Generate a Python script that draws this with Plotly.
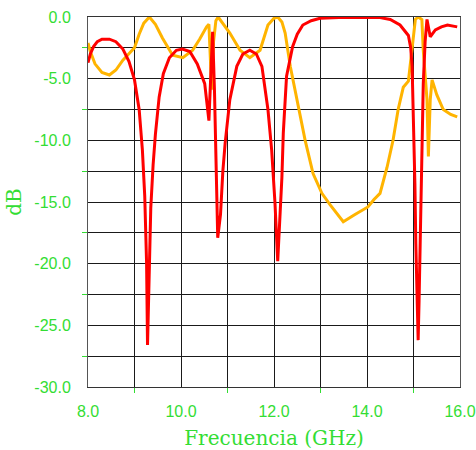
import plotly.graph_objects as go

# Frequency (GHz) / dB samples
red_f = [8.00, 8.05, 8.12, 8.20, 8.30, 8.46, 8.60, 8.75, 8.88, 9.00, 9.10, 9.17, 9.22, 9.26, 9.28,
         9.31, 9.35, 9.40, 9.45, 9.53, 9.62, 9.75, 9.90, 10.03, 10.19, 10.35, 10.51, 10.60, 10.64,
         10.68, 10.72, 10.76, 10.79, 10.85, 10.90, 10.95, 11.05, 11.20, 11.33, 11.48, 11.62, 11.74,
         11.87, 11.95, 12.02, 12.08, 12.13, 12.17, 12.20, 12.27, 12.40, 12.50, 12.62, 12.80, 12.99,
         13.40, 14.00, 14.28, 14.50, 14.71, 14.89, 14.94, 14.97, 15.00, 15.03, 15.05, 15.08, 15.10,
         15.12, 15.16, 15.18, 15.21, 15.25, 15.29, 15.36, 15.47, 15.60, 15.73, 15.94]
red_db = [-3.7, -3.0, -2.4, -2.0, -1.8, -1.8, -2.0, -2.6, -3.6, -5.1, -7.5, -10.8, -14.5, -20.0, -26.6,
          -22.0, -15.5, -12.0, -9.5, -6.5, -4.6, -3.3, -2.7, -2.6, -2.8, -3.8, -5.4, -8.4, -4.5,
          -1.2, -6.0, -13.0, -17.9, -16.0, -12.5, -10.2, -6.7, -4.0, -3.0, -2.7, -3.0, -4.0,
          -7.5, -10.8, -15.0, -19.8, -16.5, -13.0, -9.4, -4.8, -2.4, -1.4, -0.65, -0.3, -0.1,
          -0.05, -0.05, -0.05, -0.2, -0.65, -1.5, -2.5, -4.0, -8.1, -13.5, -18.4, -22.0, -26.2,
          -23.0, -14.0, -9.4, -5.4, -2.0, -0.2, -1.6, -1.05, -0.8, -0.65, -0.8]

orange_f = [8.00, 8.05, 8.15, 8.30, 8.46, 8.60, 8.75, 9.00, 9.10, 9.20, 9.32, 9.45, 9.60, 9.82, 10.04,
            10.25, 10.40, 10.55, 10.60, 10.63, 10.66, 10.70, 10.75, 10.80, 10.90, 11.05, 11.27, 11.48,
            11.70, 11.87, 12.00, 12.08, 12.17, 12.24, 12.35, 12.50, 12.67, 12.84, 13.03, 13.20, 13.42,
            13.49, 13.75, 14.02, 14.15, 14.28, 14.43, 14.56, 14.67, 14.78, 14.89, 14.97, 15.04, 15.10,
            15.18, 15.21, 15.29, 15.32, 15.36, 15.40, 15.50, 15.64, 15.80, 15.94]
orange_db = [-2.1, -2.8, -3.8, -4.5, -4.7, -4.3, -3.5, -2.5, -1.4, -0.5, 0.0, -0.6, -1.7, -3.1, -3.3,
             -2.7, -1.8, -0.8, -0.6, -3.0, -5.9, -2.0, -0.3, 0.0, -0.5, -1.3, -2.7, -3.3,
             -2.7, -0.65, -0.1, 0.0, -0.4, -1.3, -4.0, -6.7, -10.0, -12.7, -14.3, -15.2, -16.2,
             -16.6, -16.0, -15.4, -14.8, -14.3, -12.2, -10.0, -7.5, -5.7, -5.2, -2.7, -0.2, 0.0,
             -0.2, -2.7, -6.7, -11.3, -6.7, -5.1, -6.3, -7.5, -7.9, -8.1]

x_ticks = [8, 10, 12, 14, 16]
x_ticktext = ["8.0", "10.0", "12.0", "14.0", "16.0"]
x_minor = [9, 11, 13, 15]
y_ticks = [0, -5, -10, -15, -20, -25, -30]
y_ticktext = ["0.0", "-5.0", "-10.0", "-15.0", "-20.0", "-25.0", "-30.0"]
y_minor = [-2.5, -7.5, -12.5, -17.5, -22.5, -27.5]

GREEN = "#33DD33"
GRID = "#1a1a1a"

fig = go.Figure()
fig.add_trace(go.Scatter(x=orange_f, y=orange_db, mode="lines",
                         line=dict(color="#FFB400", width=3), showlegend=False))
fig.add_trace(go.Scatter(x=red_f, y=red_db, mode="lines",
                         line=dict(color="#FF0000", width=3), showlegend=False))

fig.update_layout(
    width=476, height=450,
    margin=dict(l=88, r=16, t=17, b=63),
    paper_bgcolor="white", plot_bgcolor="white",
    font=dict(family="Liberation Sans, Arial, sans-serif", size=16, color=GREEN),
)
fig.update_xaxes(
    range=[8, 16], tickmode="array", tickvals=x_ticks, ticktext=x_ticktext,
    ticks="outside", ticklen=10, tickcolor="rgba(0,0,0,0)",
    showgrid=True, gridcolor=GRID, gridwidth=1,
    showline=True, linecolor="#333", linewidth=1, mirror=True, zeroline=False,
    minor=dict(tickmode="array", tickvals=x_minor, ticks="outside", ticklen=5,
               tickcolor=GREEN, showgrid=True, gridcolor=GRID, gridwidth=1),
    tickfont=dict(color=GREEN, size=16),
    title=dict(text="Frecuencia (GHz)", standoff=11,
               font=dict(family="DejaVu Serif, serif", size=20, color=GREEN)),
    automargin=False,
)
fig.update_yaxes(
    range=[-30, 0], tickmode="array", tickvals=y_ticks, ticktext=y_ticktext,
    ticks="outside", ticklen=13, tickcolor="rgba(0,0,0,0)",
    showgrid=True, gridcolor=GRID, gridwidth=1,
    showline=True, linecolor="#555", linewidth=1, mirror=True, zeroline=False,
    minor=dict(tickmode="array", tickvals=y_minor, ticks="outside", ticklen=5,
               tickcolor=GREEN, showgrid=True, gridcolor=GRID, gridwidth=1),
    tickfont=dict(color=GREEN, size=16),
    title=dict(text="dB", standoff=7,
               font=dict(family="DejaVu Serif, serif", size=20, color=GREEN)),
    automargin=False,
)

fig.write_html(
    "out.html",
    config={"displayModeBar": False},
    post_script="document.body.style.margin='0';document.body.style.overflow='hidden';",
)
